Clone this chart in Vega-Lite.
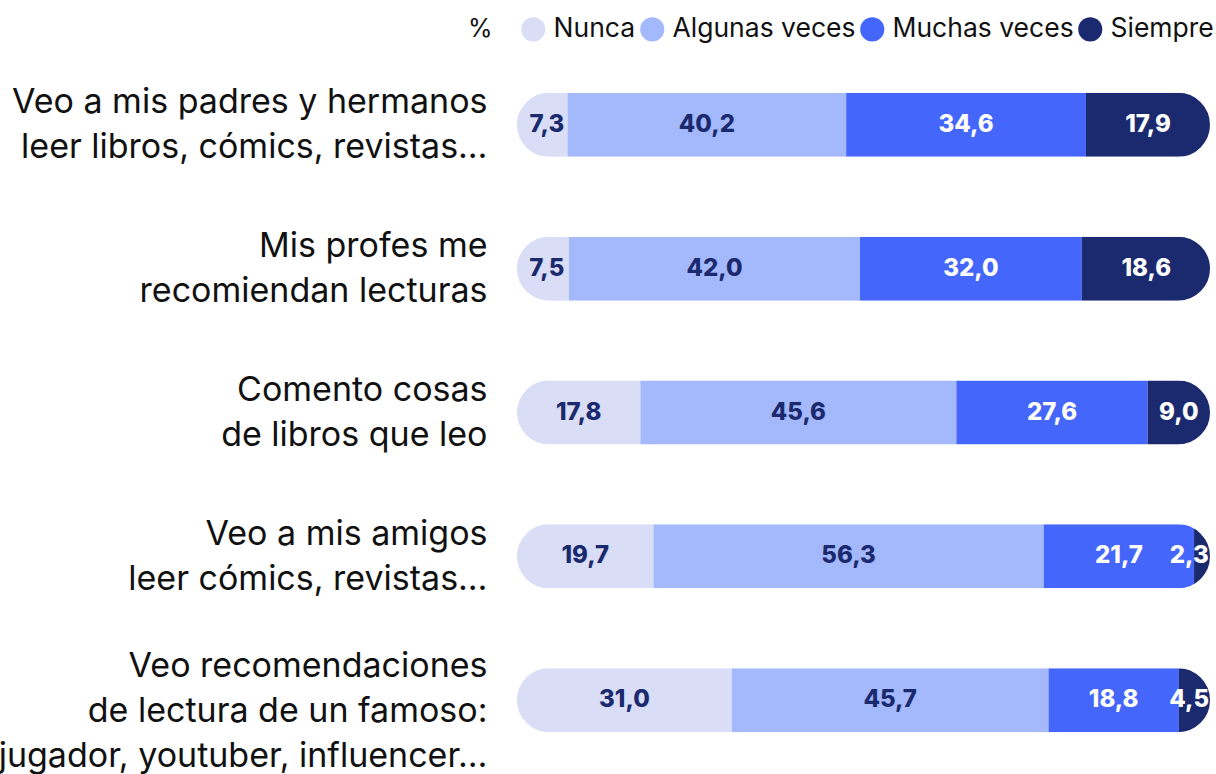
{
  "$schema": "https://vega.github.io/schema/vega-lite/v6.json",
  "width": 693,
  "height": 633,
  "autosize": {"type": "none"},
  "padding": {"left": 517, "top": 96, "right": 6, "bottom": 45},
  "background": "white",
  "config": {"view": {"stroke": null}, "font": "Inter"},
  "data": {
    "values": [
      {"item": "Veo a mis padres y hermanos|leer libros, cómics, revistas…", "cat": "Nunca", "value": 7.3},
      {"item": "Veo a mis padres y hermanos|leer libros, cómics, revistas…", "cat": "Algunas veces", "value": 40.2},
      {"item": "Veo a mis padres y hermanos|leer libros, cómics, revistas…", "cat": "Muchas veces", "value": 34.6},
      {"item": "Veo a mis padres y hermanos|leer libros, cómics, revistas…", "cat": "Siempre", "value": 17.9},
      {"item": "Mis profes me|recomiendan lecturas", "cat": "Nunca", "value": 7.5},
      {"item": "Mis profes me|recomiendan lecturas", "cat": "Algunas veces", "value": 42.0},
      {"item": "Mis profes me|recomiendan lecturas", "cat": "Muchas veces", "value": 32.0},
      {"item": "Mis profes me|recomiendan lecturas", "cat": "Siempre", "value": 18.6},
      {"item": "Comento cosas|de libros que leo", "cat": "Nunca", "value": 17.8},
      {"item": "Comento cosas|de libros que leo", "cat": "Algunas veces", "value": 45.6},
      {"item": "Comento cosas|de libros que leo", "cat": "Muchas veces", "value": 27.6},
      {"item": "Comento cosas|de libros que leo", "cat": "Siempre", "value": 9.0},
      {"item": "Veo a mis amigos|leer cómics, revistas…", "cat": "Nunca", "value": 19.7},
      {"item": "Veo a mis amigos|leer cómics, revistas…", "cat": "Algunas veces", "value": 56.3},
      {"item": "Veo a mis amigos|leer cómics, revistas…", "cat": "Muchas veces", "value": 21.7},
      {"item": "Veo a mis amigos|leer cómics, revistas…", "cat": "Siempre", "value": 2.3},
      {"item": "Veo recomendaciones|de lectura de un famoso:|jugador, youtuber, influencer…", "cat": "Nunca", "value": 31.0},
      {"item": "Veo recomendaciones|de lectura de un famoso:|jugador, youtuber, influencer…", "cat": "Algunas veces", "value": 45.7},
      {"item": "Veo recomendaciones|de lectura de un famoso:|jugador, youtuber, influencer…", "cat": "Muchas veces", "value": 18.8},
      {"item": "Veo recomendaciones|de lectura de un famoso:|jugador, youtuber, influencer…", "cat": "Siempre", "value": 4.5}
    ]
  },
  "transform": [
    {"calculate": "indexof(['Nunca','Algunas veces','Muchas veces','Siempre'], datum.cat)", "as": "orden"},
    {"stack": "value", "groupby": ["item"], "sort": [{"field": "orden", "order": "ascending"}], "as": ["x0", "x1"]},
    {"calculate": "clamp((datum.x0 + datum.x1) / 2, 4.3, 97.0)", "as": "pos"},
    {"calculate": "replace(format(datum.value, '.1f'), '.', ',')", "as": "etiqueta"}
  ],
  "encoding": {
    "y": {
      "field": "item",
      "type": "nominal",
      "sort": null,
      "scale": {"type": "point", "padding": 0.2},
      "axis": {
        "title": null,
        "domain": false,
        "ticks": false,
        "grid": false,
        "labelPadding": 30,
        "labelFontSize": 34,
        "labelLineHeight": 45,
        "labelOffset": {"condition": {"test": "length(split(datum.value, '|')) == 3", "value": -34}, "value": -22},
        "labelExpr": "split(datum.value, '|')",
        "labelColor": "#111111",
        "labelFont": "Inter",
        "labelLimit": 0
      }
    }
  },
  "layer": [
    {
      "mark": {"type": "bar", "height": 64},
      "encoding": {
        "x": {"field": "x0", "type": "quantitative", "scale": {"domain": [0, 100], "nice": false}, "axis": null},
        "x2": {"field": "x1"},
        "color": {
          "field": "cat",
          "type": "nominal",
          "scale": {"domain": ["Nunca", "Algunas veces", "Muchas veces", "Siempre"], "range": ["#d9def6", "#a4b8fc", "#4466fb", "#1b2a6f"]},
          "legend": {
            "title": "%",
            "orient": "none",
            "legendX": -49,
            "legendY": -80,
            "direction": "horizontal",
            "titleOrient": "left",
            "titleFontSize": 25,
            "titleFontWeight": "normal",
            "titleColor": "#111111",
            "titlePadding": 27,
            "symbolType": "circle",
            "symbolSize": 580,
            "symbolStrokeWidth": 0,
            "symbolOpacity": 1,
            "labelFontSize": 26.5,
            "labelColor": "#111111",
            "labelOffset": 7,
            "columnPadding": 3,
            "labelLimit": 0
          }
        }
      }
    },
    {
      "transform": [{"filter": "datum.cat == 'Nunca'"}],
      "mark": {"type": "bar", "height": 79, "fill": "transparent", "stroke": "white", "strokeWidth": 15, "cornerRadius": 39.5},
      "encoding": {
        "x": {"datum": -1.082, "type": "quantitative", "scale": {"domain": [0, 100], "nice": false}},
        "x2": {"datum": 101.082}
      }
    },
    {
      "mark": {"type": "text", "fontSize": 24, "fontWeight": 800, "font": "Inter"},
      "encoding": {
        "x": {"field": "pos", "type": "quantitative", "scale": {"domain": [0, 100], "nice": false}},
        "text": {"field": "etiqueta"},
        "color": {"condition": {"test": "datum.cat == 'Nunca' || datum.cat == 'Algunas veces'", "value": "#1b2a6e"}, "value": "#ffffff"}
      }
    }
  ]
}
